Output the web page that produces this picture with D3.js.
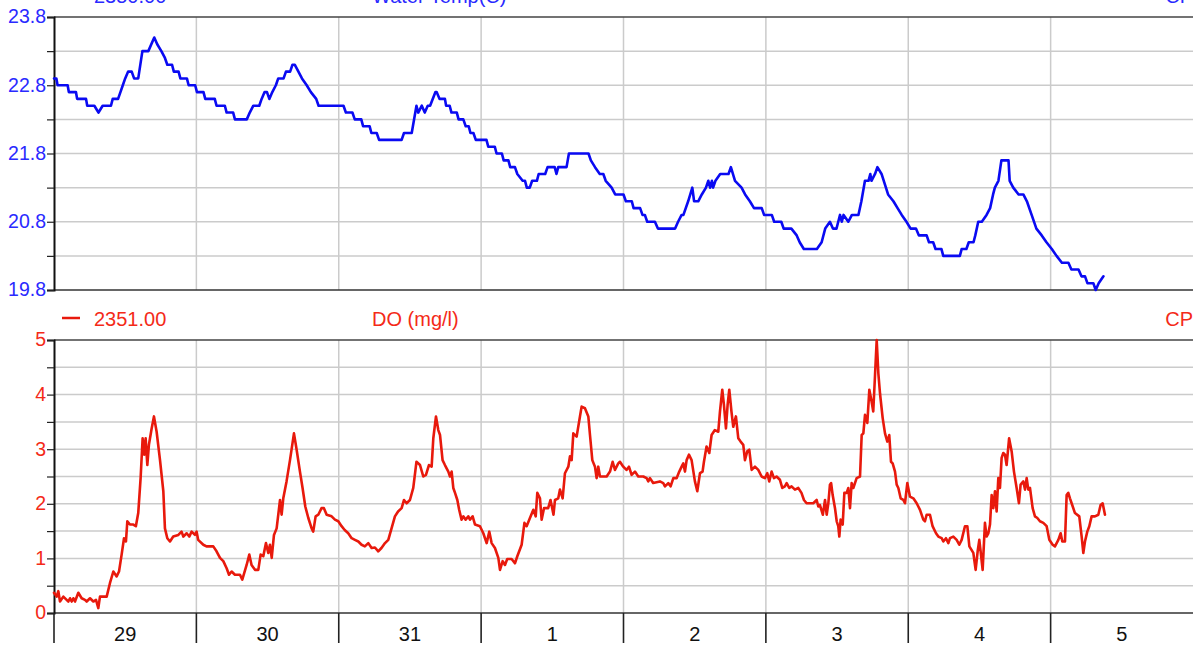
<!DOCTYPE html>
<html>
<head>
<meta charset="utf-8">
<script src="https://cdn.jsdelivr.net/npm/d3@7"></script>
<style>
  html, body { margin: 0; padding: 0; background: #fff; }
  svg { display: block; font-family: "Liberation Sans", Arial, sans-serif; }
</style>
</head>
<body>
<svg id="chart" width="1193" height="645"></svg>
<script>
// ---------------- DATA ----------------
const startDateUTC = Date.UTC(2021, 2, 29);   // 29 Mar, 00:00
const dayCount = 8;
const dayLabels = ["29", "30", "31", "1", "2", "3", "4", "5"];

const tempHeader = { value: "2350.00", name: "Water Temp(C)", site: "CP" };
const doHeader   = { value: "2351.00", name: "DO (mg/l)",     site: "CP" };

const tempDomain = [19.8, 23.8];
const tempTickLabels = [19.8, 20.8, 21.8, 22.8, 23.8];
const doDomain = [0, 5];
const doTickLabels = [0, 1, 2, 3, 4, 5];

// [hours since 29 00:00, water temperature °C]
const tempReadings = [
  [0,22.9],[0.4,22.9],[0.6,22.8],[2.3,22.8],[2.5,22.7],[3.7,22.7],[3.9,22.6],[5.4,22.6],[5.6,22.5],[6.8,22.5],
  [7.5,22.4],[8.2,22.5],[9.6,22.5],[9.9,22.6],[10.8,22.6],[11.2,22.7],[11.6,22.8],[12.0,22.9],[12.5,23.0],[13.1,23.0],
  [13.5,22.9],[14.2,22.9],[14.9,23.3],[15.9,23.3],[16.9,23.5],[17.4,23.4],[18.1,23.3],[18.7,23.2],[19.1,23.1],[19.9,23.1],
  [20.2,23.0],[21.0,23.0],[21.3,22.9],[22.4,22.9],[22.7,22.8],[23.8,22.8],[24.1,22.7],[25.2,22.7],[25.5,22.6],[27.1,22.6],
  [27.4,22.5],[28.8,22.5],[29.1,22.4],[30.2,22.4],[30.5,22.3],[32.5,22.3],[33.0,22.4],[33.6,22.5],[34.6,22.5],[35.0,22.6],
  [35.5,22.7],[35.9,22.7],[36.3,22.6],[36.8,22.7],[37.4,22.8],[37.8,22.9],[38.7,22.9],[39.1,23.0],[39.8,23.0],[40.2,23.1],
  [40.6,23.1],[41.2,23.0],[41.8,22.9],[42.6,22.8],[43.3,22.7],[44.2,22.6],[44.6,22.5],[48.8,22.5],[49.2,22.4],[50.3,22.4],
  [50.7,22.3],[51.8,22.3],[52.1,22.2],[53.2,22.2],[53.5,22.1],[54.4,22.1],[54.8,22.0],[58.6,22.0],[59.0,22.1],[60.3,22.1],
  [61.1,22.5],[61.4,22.4],[62.0,22.5],[62.5,22.4],[63.0,22.5],[63.4,22.5],[64.3,22.7],[64.5,22.7],[65.0,22.6],[65.9,22.6],
  [66.1,22.5],[66.7,22.5],[67.0,22.4],[67.9,22.4],[68.2,22.3],[69.0,22.3],[69.4,22.2],[69.9,22.2],[70.2,22.1],[70.7,22.1],
  [71.1,22.0],[72.9,22.0],[73.2,21.9],[74.3,21.9],[74.6,21.8],[75.5,21.8],[75.8,21.7],[76.6,21.7],[76.9,21.6],[77.7,21.6],
  [78.1,21.5],[79.0,21.4],[79.4,21.4],[79.7,21.3],[80.2,21.3],[80.6,21.4],[81.4,21.4],[81.7,21.5],[82.8,21.5],[83.2,21.6],
  [84.4,21.6],[84.7,21.5],[85.0,21.6],[86.4,21.6],[86.8,21.8],[90.1,21.8],[90.5,21.7],[91.2,21.6],[92.0,21.5],[92.6,21.5],
  [93.0,21.4],[94.0,21.3],[94.6,21.2],[96.0,21.2],[96.4,21.1],[97.4,21.1],[97.7,21.0],[98.8,21.0],[99.2,20.9],[99.6,20.9],
  [100.0,20.8],[101.3,20.8],[101.8,20.7],[104.7,20.7],[105.2,20.8],[105.8,20.9],[106.1,20.9],[106.9,21.1],[107.6,21.3],[107.9,21.1],
  [108.6,21.1],[109.2,21.2],[109.9,21.3],[110.3,21.4],[110.6,21.3],[110.9,21.4],[111.1,21.3],[111.5,21.4],[112.3,21.5],[113.7,21.5],
  [114.1,21.6],[114.8,21.4],[115.9,21.3],[116.5,21.2],[117.3,21.1],[118.0,21.0],[119.3,21.0],[119.7,20.9],[121.0,20.9],[121.4,20.8],
  [122.6,20.8],[123.0,20.7],[124.3,20.7],[125.2,20.6],[125.7,20.5],[126.4,20.4],[128.6,20.4],[129.4,20.5],[130.0,20.7],[130.8,20.8],
  [131.3,20.7],[131.9,20.7],[132.2,20.8],[132.5,20.9],[132.8,20.8],[133.1,20.9],[133.9,20.8],[134.5,20.9],[135.6,20.9],[136.1,21.1],
  [136.7,21.4],[137.3,21.4],[137.6,21.5],[137.8,21.4],[138.4,21.5],[138.8,21.6],[139.5,21.5],[140.6,21.2],[141.5,21.1],[142.2,21.0],
  [142.9,20.9],[143.7,20.8],[144.4,20.7],[145.3,20.7],[145.8,20.6],[147.1,20.6],[147.5,20.5],[148.2,20.5],[148.6,20.4],[149.6,20.4],
  [149.9,20.3],[152.7,20.3],[153.0,20.4],[153.8,20.4],[154.2,20.5],[155.0,20.5],[155.3,20.6],[155.8,20.8],[156.4,20.8],[157.2,20.9],
  [157.8,21.0],[158.3,21.2],[158.6,21.3],[159.2,21.4],[159.7,21.7],[160.9,21.7],[161.1,21.4],[161.7,21.3],[162.6,21.2],[163.4,21.2],
  [164.0,21.1],[164.8,20.9],[165.6,20.7],[166.5,20.6],[167.3,20.5],[168.2,20.4],[169.0,20.3],[169.9,20.2],[171.0,20.2],[171.5,20.1],
  [172.7,20.1],[173.2,20.0],[173.8,20.0],[174.2,19.9],[175.2,19.9],[175.6,19.8],[176.1,19.9],[176.9,20.0]
];

// [hours since 29 00:00, dissolved oxygen mg/l]
const doReadings = [
  [0,0.37],[0.45,0.30],[0.73,0.40],[1.01,0.21],[1.57,0.30],[2.13,0.24],[2.42,0.21],[2.70,0.27],[2.98,0.21],[3.26,0.27],
  [3.54,0.21],[4.10,0.37],[4.66,0.27],[5.22,0.24],[5.51,0.21],[6.07,0.27],[6.63,0.21],[7.08,0.24],[7.47,0.09],[7.75,0.30],
  [8.88,0.30],[9.44,0.55],[10.0,0.76],[10.56,0.67],[10.96,0.76],[11.4,1.07],[11.8,1.37],[12.13,1.31],[12.36,1.68],[12.8,1.62],
  [13.37,1.62],[13.8,1.59],[14.2,1.83],[14.6,2.47],[14.94,3.2],[15.22,2.9],[15.45,3.2],[15.73,2.71],[16.0,3.08],[16.46,3.38],
  [16.85,3.6],[17.3,3.32],[17.87,2.80],[18.43,2.23],[18.7,1.55],[19.1,1.37],[19.55,1.31],[20.1,1.40],[20.96,1.43],[21.5,1.49],
  [21.8,1.40],[22.36,1.46],[22.8,1.40],[23.2,1.49],[23.76,1.43],[24.04,1.49],[24.3,1.34],[25.17,1.25],[25.7,1.22],[26.85,1.22],
  [27.4,1.13],[27.98,1.01],[28.54,0.95],[29.1,0.82],[29.5,0.70],[29.94,0.76],[30.5,0.70],[31.35,0.70],[31.74,0.61],[32.47,0.88],
  [32.92,1.07],[33.3,0.88],[33.88,0.79],[34.44,0.79],[34.83,1.07],[35.28,1.04],[35.73,1.28],[36.12,1.10],[36.4,1.25],[36.7,1.01],
  [37.08,1.43],[37.53,1.55],[38.1,2.07],[38.37,1.80],[38.65,2.10],[39.2,2.41],[39.78,2.80],[40.45,3.29],[40.9,2.99],[41.46,2.59],
  [41.9,2.29],[42.36,1.95],[42.87,1.74],[43.43,1.55],[43.7,1.49],[44.1,1.77],[44.55,1.80],[45.1,1.92],[45.5,1.92],[45.96,1.80],
  [46.8,1.77],[47.36,1.71],[47.92,1.68],[48.48,1.59],[49.0,1.52],[49.6,1.46],[50.17,1.37],[50.73,1.34],[51.3,1.31],[51.85,1.25],
  [52.4,1.22],[52.98,1.28],[53.54,1.19],[54.1,1.20],[54.66,1.13],[55.2,1.19],[55.8,1.28],[56.35,1.34],[56.9,1.55],[57.47,1.77],
  [58.0,1.86],[58.6,1.92],[59.0,2.07],[59.44,2.01],[60.0,2.07],[60.56,2.29],[61.1,2.77],[61.7,2.71],[62.25,2.50],[62.7,2.53],
  [63.2,2.71],[63.66,2.68],[63.94,3.2],[64.39,3.6],[64.78,3.35],[65.07,3.26],[65.5,2.80],[65.9,2.71],[66.47,2.59],[66.75,2.50],
  [67.03,2.59],[67.31,2.29],[67.6,2.20],[67.99,2.07],[68.3,1.89],[68.7,1.71],[69.0,1.77],[69.39,1.71],[69.84,1.77],[70.12,1.71],
  [70.57,1.77],[70.97,1.62],[71.8,1.59],[72.37,1.46],[72.93,1.28],[73.38,1.49],[73.77,1.28],[74.33,1.19],[74.9,1.01],[75.18,0.79],
  [75.63,0.95],[76.02,0.88],[76.4,0.99],[77.14,0.99],[77.7,0.91],[78.1,1.04],[78.83,1.25],[79.3,1.65],[79.67,1.59],[80.23,1.74],
  [80.8,1.89],[81.2,1.77],[81.47,2.20],[81.92,2.10],[82.2,1.71],[82.6,1.92],[83.3,1.92],[83.7,2.07],[84.2,1.80],[84.45,2.07],
  [85.0,2.10],[85.29,2.26],[85.74,2.10],[86.13,2.56],[86.7,2.68],[86.98,2.87],[87.26,2.80],[87.54,3.29],[88.1,3.23],[88.66,3.6],
  [88.94,3.78],[89.5,3.75],[90.07,3.6],[90.35,3.26],[90.74,2.80],[91.19,2.68],[91.47,2.47],[91.75,2.68],[92.03,2.50],[92.6,2.50],
  [93.16,2.50],[93.72,2.59],[94.17,2.77],[94.56,2.62],[95.12,2.74],[95.4,2.77],[95.96,2.68],[96.5,2.62],[96.92,2.68],[97.37,2.53],
  [97.93,2.59],[98.49,2.50],[99.34,2.50],[99.9,2.47],[100.18,2.41],[100.46,2.47],[101.0,2.38],[102.14,2.41],[102.7,2.38],[102.99,2.32],
  [103.55,2.38],[103.94,2.32],[104.4,2.47],[104.95,2.47],[105.4,2.59],[105.8,2.68],[106.08,2.74],[106.36,2.59],[106.64,2.80],[107.03,2.90],
  [107.48,2.80],[108.04,2.41],[108.44,2.23],[108.89,2.56],[109.33,2.59],[109.56,2.77],[110.0,3.05],[110.46,2.93],[110.85,3.26],[111.4,3.35],
  [111.98,3.32],[112.26,3.69],[112.65,4.09],[112.93,3.81],[113.27,3.38],[113.55,3.81],[113.83,4.09],[114.2,3.69],[114.5,3.41],[114.95,3.6],
  [115.35,3.2],[115.74,3.14],[116.19,3.08],[116.47,2.80],[116.86,2.96],[117.2,2.99],[117.6,2.62],[118.16,2.68],[118.72,2.62],[119.28,2.50],
  [119.84,2.47],[120.24,2.56],[120.57,2.41],[120.97,2.59],[121.36,2.47],[121.8,2.50],[122.37,2.44],[122.76,2.29],[123.2,2.32],[123.5,2.38],
  [123.94,2.29],[124.33,2.32],[124.9,2.26],[125.46,2.29],[126.0,2.20],[126.42,2.07],[126.86,2.01],[127.99,2.01],[128.56,2.07],[128.84,1.95],
  [129.1,1.98],[129.6,1.80],[129.97,2.07],[130.25,1.80],[130.53,2.01],[130.8,2.35],[131.0,2.38],[131.26,2.16],[131.65,1.92],[131.94,1.68],
  [132.2,1.59],[132.38,1.40],[132.6,1.71],[132.95,1.62],[133.23,2.20],[133.62,2.20],[133.9,2.29],[134.18,1.92],[134.46,2.38],[134.74,2.29],
  [135.3,2.47],[135.87,2.50],[136.15,3.26],[136.43,3.29],[136.71,3.63],[137.1,3.48],[137.44,4.09],[137.83,3.87],[138.1,3.69],[138.4,4.36],
  [138.68,5.0],[138.96,4.39],[139.24,4.02],[139.69,3.57],[140.08,3.29],[140.47,3.14],[140.8,3.26],[141.09,2.77],[141.37,2.74],[141.77,2.59],
  [142.05,2.35],[142.33,2.29],[142.72,2.10],[143.17,2.07],[143.45,2.01],[143.84,2.38],[144.29,2.13],[144.86,2.10],[145.42,2.01],[145.98,1.89],
  [146.54,1.71],[146.82,1.68],[147.1,1.80],[147.66,1.80],[148.1,1.59],[148.68,1.46],[149.07,1.40],[149.63,1.37],[149.91,1.31],[150.36,1.37],
  [150.76,1.28],[151.04,1.37],[151.6,1.40],[152.16,1.34],[152.6,1.25],[153.0,1.34],[153.56,1.59],[153.96,1.59],[154.3,1.22],[154.97,1.10],
  [155.36,0.79],[155.7,1.13],[155.98,1.34],[156.2,1.13],[156.54,0.79],[156.93,1.65],[157.2,1.40],[157.5,1.46],[157.78,1.62],[158.06,2.16],
  [158.34,1.92],[158.62,2.23],[158.9,1.86],[159.18,2.47],[159.46,2.29],[159.74,2.84],[160.02,2.93],[160.3,2.90],[160.58,2.71],[161.0,3.2],
  [161.43,2.96],[161.82,2.59],[162.27,2.29],[162.66,2.01],[162.94,2.35],[163.4,2.41],[163.68,2.26],[163.96,2.47],[164.24,2.26],[164.52,2.29],
  [164.97,1.92],[165.36,1.77],[165.76,1.74],[166.2,1.68],[166.77,1.65],[167.33,1.59],[167.78,1.34],[168.34,1.25],[168.73,1.22],[169.3,1.34],
  [169.69,1.46],[169.97,1.31],[170.42,1.31],[170.7,2.16],[170.98,2.20],[171.26,2.10],[171.54,2.01],[172.1,1.83],[172.83,1.77],[173.23,1.40],
  [173.51,1.10],[173.79,1.31],[174.18,1.49],[174.52,1.59],[174.91,1.77],[175.47,1.77],[176.04,1.80],[176.43,1.98],[176.77,2.01],[177.16,1.80]
];

// ---------------- DRAWING ----------------
const svg = d3.select("#chart");
const W = 1193, H = 645;
const left = 54, right = 1193;
const HOUR = 3600 * 1000;
const toDate = h => new Date(startDateUTC + h * HOUR);

const x = d3.scaleUtc()
  .domain([new Date(startDateUTC), new Date(startDateUTC + dayCount * 24 * HOUR)])
  .range([left, right]);

const dayBounds = d3.utcDay.range(x.domain()[0], new Date(+x.domain()[1] + 1));

const blue = "#0a0af2", blueText = "#2a2aff";
const red = "#e8190c", redText = "#f42a18";
const gridColor = "#cbcbcb";

function panel(cfg) {
  const y = d3.scaleLinear().domain(cfg.domain).range([cfg.bottom, cfg.top]);
  const g = svg.append("g");
  const halfSteps = d3.range(cfg.domain[0], cfg.domain[1] + 1e-9, 0.5).map(v => +v.toFixed(2));

  // horizontal grid
  g.append("g").selectAll("line")
    .data(halfSteps.filter(v => v > cfg.domain[0] && v < cfg.domain[1]))
    .join("line")
    .attr("x1", left).attr("x2", right)
    .attr("y1", d => y(d)).attr("y2", d => y(d))
    .attr("stroke", gridColor).attr("stroke-width", 1.5);

  // vertical grid at day boundaries
  g.append("g").selectAll("line")
    .data(dayBounds.slice(1, -1))
    .join("line")
    .attr("x1", d => x(d)).attr("x2", d => x(d))
    .attr("y1", cfg.top).attr("y2", cfg.bottom)
    .attr("stroke", gridColor).attr("stroke-width", 1.5);

  // top & bottom borders
  g.append("line").attr("x1", left).attr("x2", right)
    .attr("y1", cfg.top).attr("y2", cfg.top)
    .attr("stroke", "#444").attr("stroke-width", 1.6);
  g.append("line").attr("x1", left).attr("x2", right)
    .attr("y1", cfg.bottom).attr("y2", cfg.bottom)
    .attr("stroke", "#333").attr("stroke-width", 1.6);

  // left axis
  const axis = d3.axisLeft(y)
    .tickValues(halfSteps)
    .tickSize(7)
    .tickPadding(1)
    .tickFormat(d => cfg.tickLabels.some(t => Math.abs(t - d) < 1e-6) ? cfg.fmt(d) : "");
  const ag = g.append("g").attr("transform", `translate(${left},0)`).call(axis);
  ag.select(".domain").attr("stroke", "#111").attr("stroke-width", 2);
  ag.selectAll(".tick line").attr("stroke", "#222").attr("stroke-width", 1.2);
  ag.selectAll(".tick text")
    .attr("fill", cfg.textColor)
    .attr("font-size", 19.5)
    .attr("font-family", "Liberation Sans, Arial, sans-serif")
    .attr("dy", "0.3em");

  // series line
  const line = d3.line()
    .x(d => x(toDate(d[0])))
    .y(d => y(d[1]));
  g.append("path")
    .datum(cfg.data)
    .attr("d", line)
    .attr("fill", "none")
    .attr("stroke", cfg.color)
    .attr("stroke-width", 2.6)
    .attr("stroke-linejoin", "round")
    .attr("stroke-linecap", "round");

  // header
  const hb = cfg.top - 14;
  const hg = svg.append("g").attr("font-size", 20).attr("fill", cfg.textColor);
  hg.append("line")
    .attr("x1", 62).attr("x2", 80)
    .attr("y1", hb - 8).attr("y2", hb - 8)
    .attr("stroke", cfg.color).attr("stroke-width", 2.5);
  hg.append("text").attr("x", 94).attr("y", hb).text(cfg.header.value);
  hg.append("text").attr("x", 372).attr("y", hb).text(cfg.header.name);
  hg.append("text").attr("x", W).attr("y", hb).attr("text-anchor", "end").text(cfg.header.site);
  return y;
}

panel({
  domain: tempDomain, top: 17, bottom: 290, data: tempReadings,
  tickLabels: tempTickLabels, fmt: d3.format(".1f"),
  color: blue, textColor: blueText, header: tempHeader
});

panel({
  domain: doDomain, top: 340, bottom: 613, data: doReadings,
  tickLabels: doTickLabels, fmt: d3.format("d"),
  color: red, textColor: redText, header: doHeader
});

// bottom time axis: day separators + centred labels
const xg = svg.append("g");
xg.selectAll("line.sep")
  .data(dayBounds.slice(0, -1))
  .join("line")
  .attr("class", "sep")
  .attr("x1", d => x(d)).attr("x2", d => x(d))
  .attr("y1", 613).attr("y2", 643)
  .attr("stroke", "#222").attr("stroke-width", 1.6);
xg.selectAll("text")
  .data(dayBounds.slice(0, -1))
  .join("text")
  .attr("x", d => x(new Date(+d + 12 * HOUR)))
  .attr("y", 641)
  .attr("text-anchor", "middle")
  .attr("font-size", 20)
  .attr("fill", "#111")
  .text((d, i) => dayLabels[i]);
</script>
</body>
</html>
